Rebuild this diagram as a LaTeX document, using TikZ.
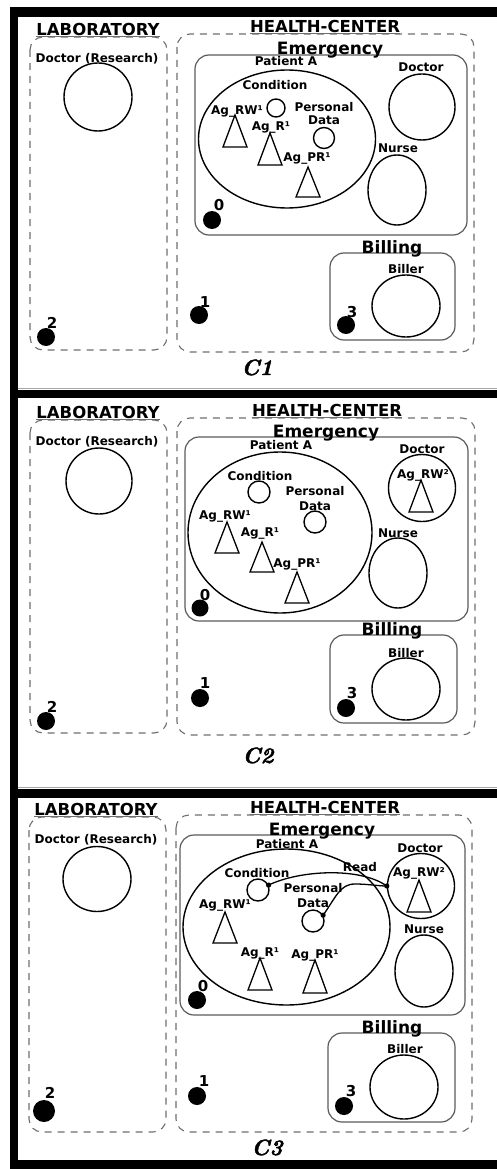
\documentclass[tikz,border=0pt]{standalone}
\usepackage{fontspec}
\newfontfamily\dvsans{DejaVu Sans}
\newfontfamily\capfont{lmroman10-bolditalic}[Extension=.otf, FakeBold=2]
\usetikzlibrary{shapes.geometric}
\definecolor{zonegray}{HTML}{6E6E6E}
\definecolor{unitgray}{HTML}{5A5A5A}

\tikzset{
  lbl/.style={font=\dvsans\bfseries\fontsize{12}{14}\selectfont, inner sep=0pt, anchor=base},
  head/.style={font=\dvsans\bfseries\fontsize{17}{20}\selectfont, inner sep=0pt, anchor=base},
  zonehead/.style={font=\dvsans\bfseries\fontsize{16.5}{20}\selectfont, inner sep=0pt, anchor=base},
  num/.style={font=\dvsans\bfseries\fontsize{15}{18}\selectfont, inner sep=0pt, anchor=base},
  capt/.style={font=\capfont\fontsize{22}{26}\selectfont, inner sep=0pt, anchor=base},
  zone/.style={draw=zonegray, line width=1.1pt, dash pattern=on 7pt off 6pt, rounded corners=13pt},
  unit/.style={draw=unitgray, line width=1.2pt, rounded corners=14pt},
  underl/.style={draw=zonegray, line width=1.1pt},
  actor/.style={draw=black, line width=1.4pt, inner sep=0pt, ellipse},
  site/.style={fill=black, circle, inner sep=0pt},
  agentline/.style={draw=black, line width=1.3pt, line join=miter},
  link/.style={draw=black, line width=1.3pt},
  bar/.style={fill=black},
}
% agent triangle: apex x, apex y, height
\newcommand\agenttri[3]{\draw[agentline] (#1,#2) -- ++(-12,#3) -- ++(24,0) -- cycle;}
% heading sitting on a dashed zone, with its underline
\newcommand\zonetitle[4]{%
  \node[zonehead] (#1) at (#2,#3) {#4};
  \draw[underl] ([yshift=-1pt]#1.south west) -- ([yshift=-1pt]#1.south east);}

\begin{document}
\begin{tikzpicture}[x=1pt,y=-1pt]
\useasboundingbox (0,0) rectangle (497,1169);

% frame bars
\fill[bar] (10,7) rectangle (497,17);
\fill[bar] (10,7) rectangle (18,1169);
\draw[gray!70, line width=0.8pt] (18,388.6) -- (497,388.6);
\fill[bar] (10,390) rectangle (497,398);
\draw[gray!70, line width=0.8pt] (18,787.6) -- (497,787.6);
\fill[bar] (10,789) rectangle (497,798);
\fill[bar] (10,1160) rectangle (497,1169);

% ================= C1 =================
\draw[zone] (30,37) rectangle (167,350);
\zonetitle{lab1}{98}{35.5}{LABORATORY}
\node[lbl] (rd1l) at (97,63) {Doctor (Research)};
\node[actor, minimum size=68] (rd1) at (98,97) {};
\node[site, minimum size=18] (s2a) at (46,337) {};
\node[num] (n2a) at (52,328) {2};

\draw[zone] (177,34) rectangle (474,352);
\zonetitle{hc1}{325}{32.5}{HEALTH-CENTER}
\draw[unit] (195,55) rectangle (467,235);
\node[head] (em1) at (330,55) {Emergency};
\node[lbl] (pat1l) at (286,66) {Patient A};
\node[actor, minimum width=177, minimum height=138] (pat1) at (287,139) {};
\node[lbl] (cond1l) at (275,90) {Condition};
\node[actor, minimum size=18] (cond1) at (276,108) {};
\node[lbl] (pd1l) at (324,112) {Personal};
\node[lbl] (pd1m) at (324,125) {Data};
\node[actor, minimum size=21] (pd1) at (324,138) {};
\node[lbl] (rw1l) at (237,115) {Ag\_RW¹};
\agenttri{235}{115}{32}
\node[lbl] (r1l) at (271,131) {Ag\_R¹};
\agenttri{270}{133}{32}
\node[lbl] (pr1l) at (307,162) {Ag\_PR¹};
\agenttri{308}{167}{30}
\node[lbl] (doc1l) at (421,72) {Doctor};
\node[actor, minimum size=66] (doc1) at (422,107) {};
\node[lbl] (nur1l) at (398,153) {Nurse};
\node[actor, minimum width=58, minimum height=70] (nur1) at (397,190) {};
\node[site, minimum size=18] (s0a) at (212,220) {};
\node[num] (n0a) at (219,210) {0};
\node[site, minimum size=18] (s1a) at (199,315) {};
\node[num] (n1a) at (205,307) {1};
\draw[unit] (330,253) rectangle (455,340);
\node[head] (bil1) at (392,253) {Billing};
\node[lbl] (bir1l) at (406,273) {Biller};
\node[actor, minimum width=68, minimum height=62] (bir1) at (406,306) {};
\node[site, minimum size=18] (s3a) at (346,325) {};
\node[num] (n3a) at (352,317) {3};
\node[capt] (cap1) at (257,375) {C1};

% ================= C2 =================
\draw[zone] (30,420) rectangle (167,733);
\zonetitle{lab2}{98}{418.5}{LABORATORY}
\node[lbl] (rd2l) at (97,445) {Doctor (Research)};
\node[actor, minimum size=66] (rd2) at (99,481) {};
\node[site, minimum size=18] (s2b) at (46,721) {};
\node[num] (n2b) at (52,712) {2};

\draw[zone] (177,418) rectangle (475,735);
\zonetitle{hc2}{327}{416.5}{HEALTH-CENTER}
\draw[unit] (185,437) rectangle (468,621);
\node[head] (em2) at (326,437) {Emergency};
\node[lbl] (pat2l) at (281,449) {Patient A};
\node[actor, minimum width=184, minimum height=161] (pat2) at (280,532.5) {};
\node[lbl] (cond2l) at (260,480) {Condition};
\node[actor, minimum size=22] (cond2) at (259,492) {};
\node[lbl] (pd2l) at (315,495) {Personal};
\node[lbl] (pd2m) at (315,510) {Data};
\node[actor, minimum size=22] (pd2) at (315,522) {};
\node[lbl] (rw2l) at (225,519) {Ag\_RW¹};
\agenttri{227}{522}{31}
\node[lbl] (r2l) at (260,536) {Ag\_R¹};
\agenttri{262}{542}{30}
\node[lbl] (pr2l) at (297,567) {Ag\_PR¹};
\agenttri{297}{572}{31}
\node[lbl] (doc2l) at (422,453) {Doctor};
\node[actor, minimum size=67] (doc2) at (422,488) {};
\node[lbl] (rwd2l) at (423,478) {Ag\_RW²};
\agenttri{421}{480}{32}
\node[lbl] (nur2l) at (398,537) {Nurse};
\node[actor, minimum width=58, minimum height=70] (nur2) at (398,573) {};
\node[site, minimum size=17] (s0b) at (200,608) {};
\node[num] (n0b) at (205,600) {0};
\node[site, minimum size=18] (s1b) at (200,698) {};
\node[num] (n1b) at (205,688) {1};
\draw[unit] (330,635) rectangle (457,723);
\node[head] (bil2) at (392,635) {Billing};
\node[lbl] (bir2l) at (406,657) {Biller};
\node[actor, minimum width=68, minimum height=62] (bir2) at (406,689) {};
\node[site, minimum size=18] (s3b) at (346,708) {};
\node[num] (n3b) at (352,698) {3};
\node[capt] (cap2) at (258,763) {C2};

% ================= C3 =================
\draw[zone] (29,817) rectangle (166,1132);
\zonetitle{lab3}{96}{815.5}{LABORATORY}
\node[lbl] (rd3l) at (96,843) {Doctor (Research)};
\node[actor, minimum width=68, minimum height=65] (rd3) at (97,879) {};
\node[site, minimum size=22] (s2c) at (44,1111) {};
\node[num] (n2c) at (50,1098) {2};

\draw[zone] (176,815) rectangle (472,1132);
\zonetitle{hc3}{325}{813.5}{HEALTH-CENTER}
\draw[unit] (180,835) rectangle (465,1015);
\node[head] (em3) at (322,835) {Emergency};
\node[lbl] (pat3l) at (287,848) {Patient A};
\node[actor, minimum width=207, minimum height=156] (pat3) at (286.5,927) {};
\node[lbl] (cond3l) at (257,877) {Condition};
\node[actor, minimum size=22] (cond3) at (258,890) {};
\node[lbl] (pd3l) at (313,892) {Personal};
\node[lbl] (pd3m) at (313,907) {Data};
\node[actor, minimum size=22] (pd3) at (313,921) {};
\node[lbl] (read3) at (360,871) {Read};
\node[lbl] (rw3l) at (225,908) {Ag\_RW¹};
\agenttri{225}{912}{31}
\node[lbl] (r3l) at (260,956) {Ag\_R¹};
\agenttri{260}{958}{32}
\node[lbl] (pr3l) at (315,958) {Ag\_PR¹};
\agenttri{315}{960}{33}
\node[lbl] (doc3l) at (420,852) {Doctor};
\node[actor, minimum width=67, minimum height=65] (doc3) at (421,886) {};
\node[lbl] (rwd3l) at (419,876) {Ag\_RW²};
\agenttri{419}{880}{32}
\node[lbl] (nur3l) at (424,933) {Nurse};
\node[actor, minimum width=58, minimum height=72] (nur3) at (424,971) {};
\node[site, minimum size=18] (s0c) at (197,1000) {};
\node[num] (n0c) at (203,991) {0};
\node[site, minimum size=18] (s1c) at (197,1096) {};
\node[num] (n1c) at (204,1086) {1};
\draw[unit] (328,1033) rectangle (455,1122);
\node[head] (bil3) at (392,1033) {Billing};
\node[lbl] (bir3l) at (405,1053) {Biller};
\node[actor, minimum width=68, minimum height=64] (bir3) at (404,1087) {};
\node[site, minimum size=18] (s3c) at (344,1106) {};
\node[num] (n3c) at (351,1096) {3};
\node[capt] (cap3) at (267,1155) {C3};

% read accesses of the doctor's agent
\draw[link] (cond3.25) .. controls (300,870) and (360,867) .. (doc3.west);
\draw[link] (pd3.30) .. controls (336,897) and (340,884) .. (355,884)
                     .. controls (368,884) and (378,886) .. (doc3.west);
\fill (cond3.25) circle (2.6);
\fill (pd3.30) circle (2.6);
\fill (doc3.west) circle (2.6);
\end{tikzpicture}
\end{document}
